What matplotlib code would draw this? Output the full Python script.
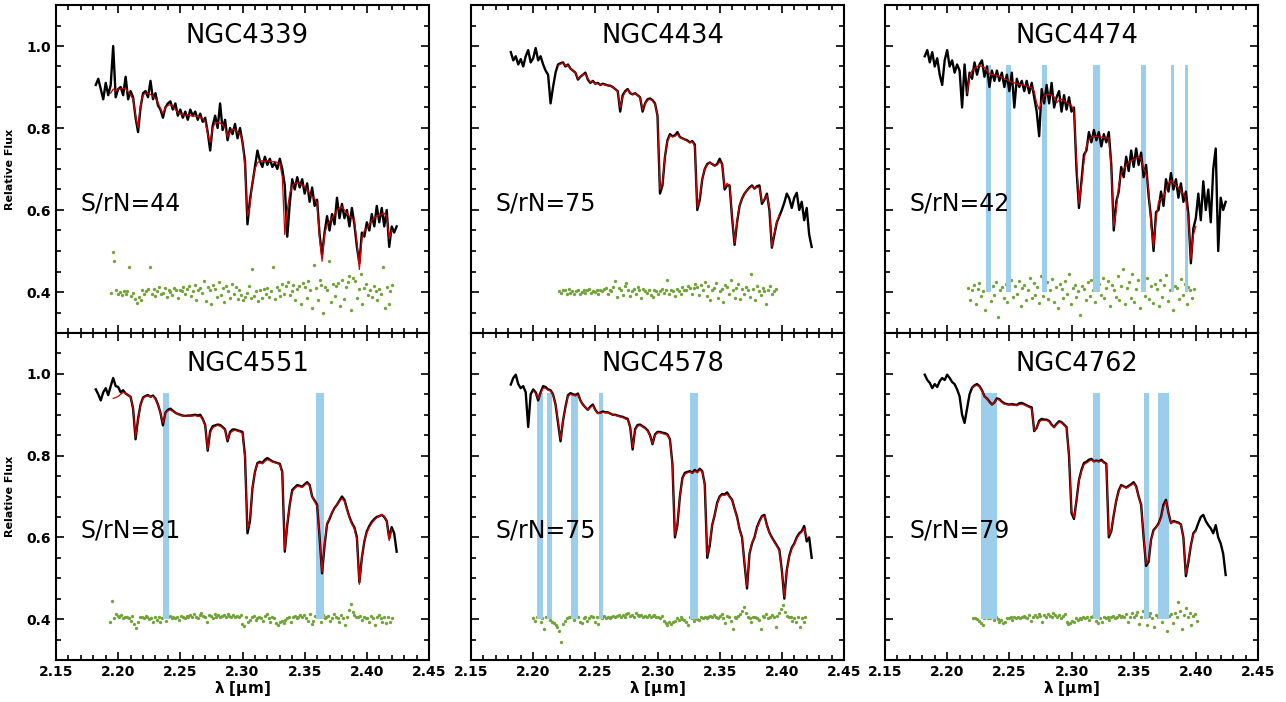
import numpy as np
import matplotlib.pyplot as plt
from matplotlib.ticker import MultipleLocator, FixedLocator

# wavelength sampling of the listed spectra (micron)
LAM0 = 2.182
STEP = 0.002
RSTEP = 0.0015

names = ['NGC4339', 'NGC4434', 'NGC4474', 'NGC4551', 'NGC4578', 'NGC4762']
snr = [44, 75, 42, 81, 75, 79]

# ---------------- NGC4339 ----------------
flux_4339 = [
    .905, .92, .895, .87, .91, .88, .905, 1.0, .875, .895,
    .90, .88, .925, .87, .89, .875, .825, .79, .85, .885,
    .89, .875, .915, .87, .885, .855, .845, .825, .85, .86,
    .865, .845, .86, .83, .845, .825, .84, .82, .845, .83,
    .84, .82, .835, .815, .825, .79, .745, .805, .83, .80,
    .86, .795, .82, .77, .80, .785, .81, .775, .80, .765,
    .72, .565, .625, .665, .705, .745, .72, .705, .73, .71,
    .725, .705, .715, .70, .725, .70, .66, .535, .615, .675,
    .65, .68, .655, .675, .64, .665, .62, .655, .61, .625,
    .54, .49, .545, .585, .55, .59, .565, .63, .58, .615,
    .58, .60, .56, .605, .565, .51, .47, .545, .535, .57,
    .55, .59, .56, .61, .57, .605, .56, .60, .51, .56,
    .545, .56,
]
model_4339_start = 2.194
model_4339 = [
    .885, .895, .89, .895,
    .895, .897, .895, .888, .88, .87, .83, .80, .855, .88,
    .885, .884, .882, .878, .872, .862, .848, .835, .85, .855,
    .857, .852, .845, .838, .834, .832, .831, .832, .830, .829,
    .829, .828, .826, .823, .815, .785, .765, .80, .812, .813,
    .812, .808, .80, .778, .79, .797, .795, .79, .785, .77,
    .70, .585, .61, .67, .70, .715, .72, .72, .719, .72,
    .719, .718, .718, .716, .714, .68, .54, .60, .64, .66,
    .665, .667, .664, .66, .656, .65, .64, .632, .628, .615,
    .53, .475, .54, .565, .572, .58, .59, .60, .605, .607,
    .60, .59, .585, .58, .575, .52, .455, .53, .55, .555,
    .565, .575, .58, .585, .588, .59, .592, .585, .53, .55,
]
res_4339_start = 2.194
res_4339 = [
    -2, 98, 76, 4, -6, 1, -8, 3, -5, 2, 62, -9, -3, -18, -26, -12, -20, 4, -6, 2,
    8, 60, -4, 7, -10, 3, 12, -6, -2, 9, -12, 5, 0, -7, 10, 4, -14, 6, 2, 11,
    -5, 8, 14, -9, 3, 16, -20, 6, 9, -3, 28, -22, 12, 4, -30, 18, 7, -12, 25, -8,
    10, -25, 15, 3, -14, 20, -6, 12, -18, 5, -8, -20, -13, -3, 15, -15, 55, -10, 2, -22,
    4, -15, 8, -5, 10, -12, 2, 62, -18, 12, 6, -10, 20, -6, 14, 25, -8, 3, 18, -20,
    8, 15, -30, 22, 12, -15, 28, 5, -40, 65, 10, -20, 30, 18, -52, 12, 5, 75, -25, 20,
    -10, 15, 22, -35, 30, -18, 12, 25, 40, -45, 35, 28, -15, 8, 45, -30, 10, 20, -8, 5,
    -12, 15, 3, -20, 8, -5, 60, -40, 12, -30, 2, 18,
]
bands_4339 = []

# ---------------- NGC4434 ----------------
flux_4434 = [
    .985, .965, .975, .955, .968, .95, .975, .99, .96, .97,
    .995, .965, .975, .955, .94, .93, .86, .90, .935, .955,
    .958, .96, .95, .955, .945, .94, .935, .918, .925, .93,
    .935, .918, .91, .915, .908, .91, .905, .908, .906, .904,
    .903, .90, .895, .89, .84, .88, .89, .895, .885, .882,
    .885, .88, .875, .84, .86, .87, .872, .868, .86, .83,
    .64, .66, .73, .77, .785, .78, .782, .79, .778, .775,
    .772, .77, .765, .768, .76, .60, .625, .675, .70, .712,
    .716, .712, .708, .712, .725, .712, .65, .66, .66, .58,
    .515, .57, .61, .628, .64, .648, .655, .66, .652, .658,
    .66, .615, .625, .64, .60, .508, .54, .57, .585, .60,
    .618, .64, .628, .605, .63, .642, .60, .62, .575, .605,
    .54, .51,
]
model_4434_start = 2.220
model_4434 = [
    .952, .956, .958, .952, .952, .945, .94, .935, .92, .925, .93,
    .932, .92, .912, .913, .908, .908, .905, .906, .905, .903,
    .902, .90, .895, .888, .85, .875, .888, .893, .886, .882,
    .884, .88, .874, .845, .86, .868, .87, .866, .858, .83,
    .65, .665, .73, .768, .782, .778, .78, .785, .777, .774,
    .771, .768, .764, .766, .755, .605, .63, .675, .70, .71,
    .715, .712, .708, .71, .718, .71, .655, .665, .66, .585,
    .52, .575, .612, .628, .64, .648, .653, .658, .653, .655,
    .655, .62, .627, .635, .605, .51, .545, .572, .588,
]
res_4434_start = 2.221
res_4434 = [
    2, -3, 6, 4, -5, 8, -2, 3, -6, 2, 5, -4, 1, 6, -3, 4, 7, -2, 3, 0,
    5, -6, 4, 2, 8, 10, -4, 6, 3, 12, 28, -12, 9, 4, -8, 15, 22, 6, -10, 3,
    7, -5, 12, 4, -15, 8, 2, -3, 6, -8, -12, 5, 3, -6, 2, 7, -2, 4, 30, -4,
    6, 3, -10, 8, 2, -5, 12, 6, 4, 15, 9, -6, 10, 20, 12, -8, 18, 5, 25, -10,
    14, -20, 6, 10, 22, -14, 3, 8, -25, 18, 12, -6, 30, 5, -15, 10, 20, -18, 8, -5,
    12, 4, -12, 45, 8, -20, 15, 2, -8, 10, 3, -30, 6, 14, -4, 2, 8,
]
bands_4434 = []

# ---------------- NGC4474 ----------------
flux_4474 = [
    .975, .99, .96, .985, .95, .97, .93, .905, .965, .99,
    .95, .965, .935, .955, .94, .85, .955, .88, .935, .92,
    .96, .93, .955, .965, .925, .95, .90, .94, .915, .94,
    .915, .935, .90, .93, .89, .935, .85, .92, .90, .915,
    .89, .915, .885, .91, .875, .84, .78, .895, .86, .905,
    .86, .91, .85, .875, .89, .84, .88, .845, .875, .84,
    .85, .70, .605, .67, .735, .745, .79, .765, .795, .77,
    .79, .755, .785, .765, .79, .71, .55, .62, .645, .705,
    .68, .73, .695, .745, .705, .75, .71, .74, .68, .71,
    .635, .58, .50, .595, .60, .645, .61, .675, .645, .69,
    .65, .675, .63, .665, .62, .645, .59, .47, .555, .58,
    .64, .575, .67, .60, .65, .57, .70, .75, .50, .63,
    .60, .62,
]
model_4474_start = 2.216
model_4474 = [
    .885, .925, .94,
    .945, .95, .952, .95, .948, .94, .932, .93, .93, .928,
    .926, .924, .92, .918, .914, .912, .91, .908, .906, .906,
    .904, .902, .90, .898, .89, .86, .845, .865, .878, .882,
    .882, .88, .876, .862, .868, .87, .866, .862, .858, .855,
    .84, .72, .615, .66, .72, .755, .772, .778, .78, .78,
    .778, .778, .776, .776, .775, .70, .56, .60, .66, .69,
    .70, .71, .715, .72, .723, .726, .73, .725, .70, .69,
    .65, .56, .51, .58, .62, .628, .632, .65, .665, .672,
    .665, .66, .655, .645, .64, .625, .58, .48, .54, .56,
]
res_4474_start = 2.217
res_4474 = [
    10, -20, 5, 18, -30, 8, 22, -10, 3, -45, 12, 6, -22, 15, -8, 25, -60, 4, 12, -15,
    20, -25, 8, 30, -12, 15, -5, 28, -35, 10, 18, -20, 6, 35, -15, 22, -8, 12, -28, 40,
    -10, 15, 25, -18, 5, 32, -25, 12, -40, 20, 8, -15, 28, -5, 45, -30, 10, 18, -12, 3,
    -55, 15, 8, -20, 25, -10, 30, 5, -25, 12, 20, -8, 35, -15, 10, 28, -35, 18, 5, -12,
    40, -20, 15, 55, -30, 10, 25, -15, 45, -25, 8, 30, -40, 12, 22, -10, 35, -18, 15, -28,
    20, 8, -35, 30, -12, 18, 42, -22, 5, 25, -45, 15, 10, -18, 32, -8, 20, -30, 12, 5, -15, 8,
]
bands_4474 = [(2.2315, 2.2355), (2.2475, 2.2515), (2.2760, 2.2806), (2.3170, 2.3230),
              (2.3560, 2.3597), (2.3798, 2.3824), (2.3910, 2.3940)]

# ---------------- NGC4551 ----------------
flux_4551 = [
    .962, .95, .935, .955, .965, .948, .97, .99, .97, .968,
    .955, .96, .952, .948, .944, .915, .84, .89, .925, .942,
    .946, .948, .944, .947, .94, .925, .905, .874, .905, .912,
    .915, .91, .905, .902, .90, .898, .897, .898, .898, .899,
    .90, .898, .90, .89, .875, .812, .86, .872, .874, .876,
    .875, .87, .864, .835, .858, .864, .864, .862, .86, .858,
    .80, .61, .64, .72, .76, .782, .785, .782, .79, .794,
    .79, .786, .784, .782, .78, .76, .565, .63, .68, .716,
    .722, .728, .726, .724, .73, .735, .728, .70, .69, .68,
    .60, .512, .58, .632, .645, .66, .672, .68, .69, .70,
    .692, .67, .65, .635, .625, .60, .49, .55, .59, .615,
    .628, .638, .645, .65, .652, .655, .65, .64, .598, .625,
    .61, .565,
]
model_4551_start = 2.196
model_4551 = [
    .94, .942, .945,
    .95, .955, .952, .948, .944, .915, .845, .885, .925, .94,
    .945, .946, .944, .945, .938, .925, .905, .88, .905, .91,
    .912, .908, .905, .902, .898, .897, .896, .897, .897, .897,
    .898, .896, .896, .888, .872, .815, .855, .868, .872, .874,
    .872, .868, .862, .838, .855, .86, .862, .86, .858, .855,
    .79, .62, .645, .722, .762, .78, .782, .78, .786, .79,
    .788, .785, .783, .781, .778, .758, .57, .635, .68, .712,
    .72, .725, .724, .722, .728, .732, .726, .70, .688, .675,
    .60, .515, .585, .635, .648, .662, .672, .68, .688, .695,
    .688, .668, .648, .632, .62, .595, .485, .548, .592, .612,
    .625, .635, .642, .648, .652, .656, .652, .64, .592, .62,
]
res_4551_start = 2.1935
res_4551 = [
    -8, 45, 3, 12, 8, 4, 10, 2, 5, 6, 3, -4, 8, -12, -22, -6, 4, 6, 2, 8,
    5, 0, 3, -6, 4, -2, 6, -8, 2, 10, -4, 5, 8, 3, 6, 2, 4, -3, 7, 5,
    3, 8, 6, 10, 4, 12, 6, 2, 9, 14, 7, 5, -6, 11, 8, 3, 12, 6, 9, 4,
    7, 10, 5, 12, 8, 6, 10, 4, 8, 5, 9, -12, -18, 6, -8, -3, 4, 8, -2, 3,
    6, 2, -4, 8, 12, 3, -6, 5, 2, -10, -14, -8, -5, -10, -3, 2, 4, -6, 5, 8,
    3, 6, 9, 4, 10, 2, -5, 12, -12, -4, 8, 15, 6, -6, 10, 3, 5, 8, -4, 2,
    12, 6, 3, -8, 10, 2, -14, 5, 22, 38, 18, 10, 6, 4, 8, -2, 5, 3, 2, -6,
    8, 3, -15, 5, 10, 2, -6, 4, -10, 6, -8, 2,
]
bands_4551 = [(2.2357, 2.2405), (2.3595, 2.3654)]

# ---------------- NGC4578 ----------------
flux_4578 = [
    .974, .99, .998, .975, .965, .97, .955, .87, .95, .962,
    .955, .935, .955, .97, .968, .962, .96, .95, .925, .88,
    .835, .885, .92, .948, .953, .95, .948, .952, .935, .925,
    .918, .912, .92, .925, .912, .904, .905, .908, .906, .906,
    .903, .90, .90, .898, .896, .895, .892, .89, .87, .815,
    .865, .875, .876, .872, .868, .862, .85, .828, .852, .858,
    .858, .856, .855, .852, .84, .78, .60, .63, .70, .745,
    .758, .76, .762, .758, .765, .76, .768, .762, .73, .55,
    .58, .63, .655, .685, .70, .706, .705, .71, .70, .692,
    .67, .65, .62, .60, .535, .475, .56, .585, .60, .625,
    .64, .652, .655, .63, .612, .60, .59, .58, .57, .52,
    .45, .52, .555, .575, .585, .60, .61, .615, .628, .59,
    .60, .55,
]
model_4578_start = 2.200
model_4578 = [
    .958,
    .952, .94, .952, .965, .965, .96, .958, .948, .925, .885,
    .84, .885, .918, .945, .95, .948, .946, .948, .935, .925,
    .918, .912, .918, .922, .91, .903, .904, .906, .905, .905,
    .902, .90, .898, .897, .895, .893, .89, .888, .87, .82,
    .862, .872, .874, .87, .866, .86, .848, .83, .85, .856,
    .856, .854, .852, .85, .838, .775, .605, .635, .70, .742,
    .755, .758, .76, .757, .762, .758, .765, .76, .728, .555,
    .585, .632, .655, .682, .698, .704, .703, .706, .698, .69,
    .668, .648, .618, .598, .538, .48, .562, .588, .60, .622,
    .638, .65, .652, .628, .61, .598, .588, .578, .566, .52,
    .455, .52, .553, .572, .583, .598, .607, .613, .622, .60,
]
res_4578_start = 2.200
res_4578 = [
    3, -4, 6, 10, -6, 2, -25, 4, 8, -2, -6, -10, -15, -20, -30, -55, -12, -4, 2, 6,
    4, 8, -2, 10, 5, -6, -10, 3, 6, -4, 2, 8, 5, -8, 4, -12, 6, 3, 8, 2,
    5, 3, 6, 8, 4, 7, 10, 6, 9, 5, 12, 15, 8, 11, 6, 14, 9, 7, 10, 5,
    8, 6, 10, 4, 7, 9, 5, 6, 3, 8, -4, -10, -14, -8, -12, -6, -4, 2, -3, 5,
    0, -2, -6, -15, 4, 2, -4, 3, 0, -2, 4, 2, 6, 3, 5, 8, 4, 10, 6, 2,
    7, 12, 3, -10, 8, 5, -4, -25, 6, 2, 8, 12, 20, 30, 15, 6, 2, -8, 4, 6,
    3, -2, -25, 8, 5, 12, 3, 6, 10, 4, -20, 8, 15, 25, 35, 18, 8, 4, 6, -5,
    3, -8, 5, -20, 2, -6, 4,
]
bands_4578 = [(2.2033, 2.2078), (2.2110, 2.2150), (2.2308, 2.2359),
              (2.2530, 2.2565), (2.3260, 2.3328)]

# ---------------- NGC4762 ----------------
flux_4762 = [
    .998, .985, .978, .965, .975, .968, .982, .99, .985, .998,
    .99, .98, .975, .962, .945, .90, .88, .915, .95, .966,
    .972, .975, .97, .96, .945, .94, .932, .925, .93, .94,
    .938, .932, .928, .926, .925, .926, .925, .924, .928, .929,
    .926, .923, .92, .918, .86, .868, .885, .89, .888, .888,
    .885, .876, .87, .878, .884, .882, .876, .87, .80, .66,
    .645, .69, .74, .765, .782, .785, .79, .792, .786, .788,
    .786, .79, .784, .78, .60, .615, .655, .69, .715, .728,
    .725, .722, .726, .73, .735, .725, .70, .68, .60, .53,
    .54, .595, .618, .625, .634, .65, .68, .692, .66, .635,
    .64, .638, .636, .632, .60, .505, .54, .58, .61, .618,
    .635, .65, .655, .64, .63, .622, .61, .63, .60, .585,
    .56, .508,
]
model_4762_start = 2.220
model_4762 = [
    .965,
    .97, .972, .968, .958, .944, .938, .93, .925, .93, .938,
    .936, .93, .926, .925, .924, .924, .923, .922, .925, .926,
    .924, .921, .918, .915, .862, .868, .882, .887, .886, .886,
    .883, .874, .868, .876, .882, .88, .874, .868, .80, .665,
    .648, .69, .738, .762, .778, .782, .786, .79, .785, .786,
    .785, .787, .782, .778, .605, .618, .655, .69, .712, .726,
    .724, .72, .724, .728, .732, .722, .70, .678, .60, .535,
    .545, .595, .616, .624, .632, .648, .675, .688, .66, .635,
    .638, .636, .634, .63, .60, .51, .545, .582, .608, .615,
]
res_4762_start = 2.221
res_4762 = [
    2, 3, 0, -4, -10, -14, 2, 4, 3, 2, 5, -2, 4, 1, -6, -2, -10, -6, 3, 2,
    4, -2, 5, 3, 6, 2, 4, 8, 5, 3, 10, -4, 6, 9, 4, 12, 8, -6, 10, 6,
    12, 8, 5, 14, 10, 6, 9, 3, 8, 12, -8, -12, -10, -4, -6, 2, -2, 3, 0, 4,
    2, 5, -2, 6, 8, 15, -5, -10, 3, -6, 4, 2, 6, -3, 5, 8, 3, 6, 10, 4,
    8, 5, 12, -8, 6, 15, 4, 10, 18, -12, 6, 20, 12, -15, 8, 15, 3, -20, 10, 4,
    18, -6, 25, 40, -30, 8, 12, -10, 15, 5, 42, 20, -25, 10, 28, 5, 15, -15, 8, 12,
    -5,
]
bands_4762 = [(2.2275, 2.2403), (2.3172, 2.3231), (2.3584, 2.3624), (2.3699, 2.3784)]

flux_all = [flux_4339, flux_4434, flux_4474, flux_4551, flux_4578, flux_4762]
model_all = [(model_4339_start, model_4339), (model_4434_start, model_4434),
             (model_4474_start, model_4474), (model_4551_start, model_4551),
             (model_4578_start, model_4578), (model_4762_start, model_4762)]
res_all = [(res_4339_start, res_4339), (res_4434_start, res_4434),
           (res_4474_start, res_4474), (res_4551_start, res_4551),
           (res_4578_start, res_4578), (res_4762_start, res_4762)]
bands_all = [bands_4339, bands_4434, bands_4474, bands_4551, bands_4578, bands_4762]

BAND_LO, BAND_HI = 0.40, 0.953
RES_ZERO = 0.40

fig = plt.figure(figsize=(12.86, 7.02), dpi=100)

lefts = [56 / 1286, 471 / 1286, 885 / 1286]
width = 373 / 1286
bottoms = [1 - 333 / 702, 1 - 660 / 702]
heights = [328 / 702, 327 / 702]

for k in range(6):
    row, col = divmod(k, 3)
    ax = fig.add_axes([lefts[col], bottoms[row], width, heights[row]])

    flux = np.array(flux_all[k])
    lam = LAM0 + STEP * np.arange(len(flux))
    m0, mod = model_all[k]
    lam_m = m0 + STEP * np.arange(len(mod))
    r0, res = res_all[k]
    lam_r = r0 + RSTEP * np.arange(len(res))

    ax.plot(lam_r, RES_ZERO + np.array(res) / 1000.0, 'o', color='#72a338',
            markersize=2.4, markeredgewidth=0, zorder=1)
    for x0, x1 in bands_all[k]:
        ax.fill_between([x0, x1], BAND_LO, BAND_HI, color='#9ccdea',
                        linewidth=0, zorder=2)
    ax.plot(lam, flux, color='black', lw=1.7, zorder=3)
    ax.plot(lam_m, mod, color='#d40000', lw=0.9, zorder=4)

    ax.text(2.304, 1.024, names[k], ha='center', va='center', fontsize=18.5)
    ax.text(2.170, 0.616, 'S/rN=%d' % snr[k], ha='left', va='center', fontsize=17)

    ax.set_xlim(2.15, 2.45)
    ax.set_ylim(0.30, 1.10)
    ax.xaxis.set_major_locator(MultipleLocator(0.05))
    ax.xaxis.set_minor_locator(MultipleLocator(0.01))
    ax.yaxis.set_major_locator(FixedLocator([0.4, 0.6, 0.8, 1.0]))
    ax.yaxis.set_minor_locator(MultipleLocator(0.05))
    ax.tick_params(which='both', direction='in', top=True, right=True, width=1.2)
    ax.tick_params(which='major', length=6)
    ax.tick_params(which='minor', length=3.5)
    for s in ax.spines.values():
        s.set_linewidth(1.5)

    if row == 1:
        ax.set_xticklabels(['%.2f' % v for v in ax.get_xticks()],
                           fontsize=10, fontweight='bold')
        ax.set_xlabel(r'$\mathbf{\lambda}$ [$\mathbf{\mu}$m]', fontsize=11,
                      fontweight='bold', labelpad=0)
    else:
        ax.set_xticklabels([])
    if col == 0:
        ax.set_yticklabels(['0.4', '0.6', '0.8', '1.0'], fontsize=10, fontweight='bold')
        ax.set_ylabel('Relative Flux', fontsize=8, fontweight='bold', labelpad=8)
    else:
        ax.set_yticklabels([])

fig.savefig('out.png', dpi=100)
